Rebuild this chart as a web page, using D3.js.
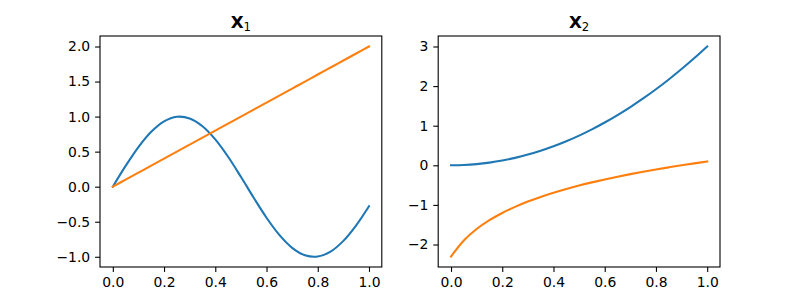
<!DOCTYPE html>
<html>
<head>
<meta charset="utf-8">
<script src="https://cdn.jsdelivr.net/npm/d3@7"></script>
<style>
  body { margin: 0; background: #fff; }
  text { font-family: "DejaVu Sans", sans-serif; fill: #000; }
</style>
</head>
<body>
<div id="chart"></div>
<script>
// x samples shared by all curves
var xValues = [0, 0.05, 0.1, 0.15, 0.2, 0.25, 0.3, 0.35, 0.4, 0.45, 0.5,
               0.55, 0.6, 0.65, 0.7, 0.75, 0.8, 0.85, 0.9, 0.95, 1.0];

// left panel (X1)
var leftBlue = [0, 0.296, 0.565, 0.783, 0.932, 0.997, 0.974, 0.863, 0.675, 0.427, 0.141,
                -0.158, -0.443, -0.688, -0.872, -0.978, -0.996, -0.926, -0.773, -0.551, -0.279];
var leftOrange = [0, 0.1, 0.2, 0.3, 0.4, 0.5, 0.6, 0.7, 0.8, 0.9, 1.0,
                  1.1, 1.2, 1.3, 1.4, 1.5, 1.6, 1.7, 1.8, 1.9, 2.0];

// right panel (X2)
var rightBlue = [0, 0.0075, 0.03, 0.0675, 0.12, 0.1875, 0.27, 0.3675, 0.48, 0.6075, 0.75,
                 0.9075, 1.08, 1.2675, 1.47, 1.6875, 1.92, 2.1675, 2.43, 2.7075, 3.0];
var rightOrange = [-2.303, -1.897, -1.609, -1.386, -1.204, -1.050, -0.916, -0.799, -0.693, -0.598, -0.511,
                   -0.431, -0.357, -0.288, -0.223, -0.163, -0.105, -0.051, 0.0, 0.049, 0.095];

var xTicks = [0, 0.2, 0.4, 0.6, 0.8, 1.0];
var leftYTicks = [-1.0, -0.5, 0.0, 0.5, 1.0, 1.5, 2.0];
var rightYTicks = [-2, -1, 0, 1, 2, 3];

var panels = [
    { sub: "1", series: [leftBlue, leftOrange], yTicks: leftYTicks, fmt: ".1f", left: 100 },
    { sub: "2", series: [rightBlue, rightOrange], yTicks: rightYTicks, fmt: "d", left: 438.2 }
];
var colors = ["#1f77b4", "#ff7f0e"];

var svgWidth = 800, svgHeight = 300;
var axTop = 36, axBottom = 267, axWidth = 281.8;

var svg = d3.select("#chart").append("svg")
    .attr("width", svgWidth)
    .attr("height", svgHeight);

function minusFmt(f) {
    var base = d3.format(f);
    return function (d) { return base(d).replace("-", "\u2212"); };
}

panels.forEach(function (p) {
    var g = svg.append("g").attr("transform", `translate(${p.left}, 0)`);

    var x = d3.scaleLinear().domain([-0.05, 1.05]).range([0, axWidth]);

    // y range with 5% margins around the data
    var all = p.series[0].concat(p.series[1]);
    var lo = d3.min(all), hi = d3.max(all), pad = (hi - lo) * 0.05;
    var y = d3.scaleLinear().domain([lo - pad, hi + pad]).range([axBottom, axTop]);

    var line = d3.line()
        .x(function (d, i) { return x(xValues[i]); })
        .y(function (d) { return y(d); })
        .curve(d3.curveCatmullRom);

    p.series.forEach(function (s, k) {
        g.append("path")
            .datum(s)
            .attr("d", line)
            .attr("fill", "none")
            .attr("stroke", colors[k])
            .attr("stroke-width", 2.08)
            .attr("stroke-linecap", "square");
    });

    var xAxis = g.append("g")
        .attr("transform", `translate(0, ${axBottom})`)
        .call(d3.axisBottom(x).tickValues(xTicks).tickFormat(d3.format(".1f"))
            .tickSizeInner(4.9).tickSizeOuter(0).tickPadding(4.9));
    var yAxis = g.append("g")
        .call(d3.axisLeft(y).tickValues(p.yTicks).tickFormat(minusFmt(p.fmt))
            .tickSizeInner(4.9).tickSizeOuter(0).tickPadding(4.9));

    [xAxis, yAxis].forEach(function (a) {
        a.select(".domain").remove();
        a.selectAll("line").attr("stroke", "#000").attr("stroke-width", 1.1);
        a.selectAll("text").attr("font-size", "13.9px")
            .attr("font-family", "DejaVu Sans, sans-serif").attr("fill", "#000");
    });

    // frame
    g.append("rect")
        .attr("x", 0).attr("y", axTop)
        .attr("width", axWidth).attr("height", axBottom - axTop)
        .attr("fill", "none")
        .attr("stroke", "#000")
        .attr("stroke-width", 1.1);

    // title: bold X with regular subscript
    var t = g.append("text")
        .attr("x", axWidth / 2)
        .attr("y", 27.5)
        .attr("text-anchor", "middle")
        .attr("font-size", "16.7px");
    t.append("tspan").attr("font-weight", "bold").text("X");
    t.append("tspan").attr("font-size", "11.7px").attr("dy", 3.5).text(p.sub);
});
</script>
</body>
</html>
